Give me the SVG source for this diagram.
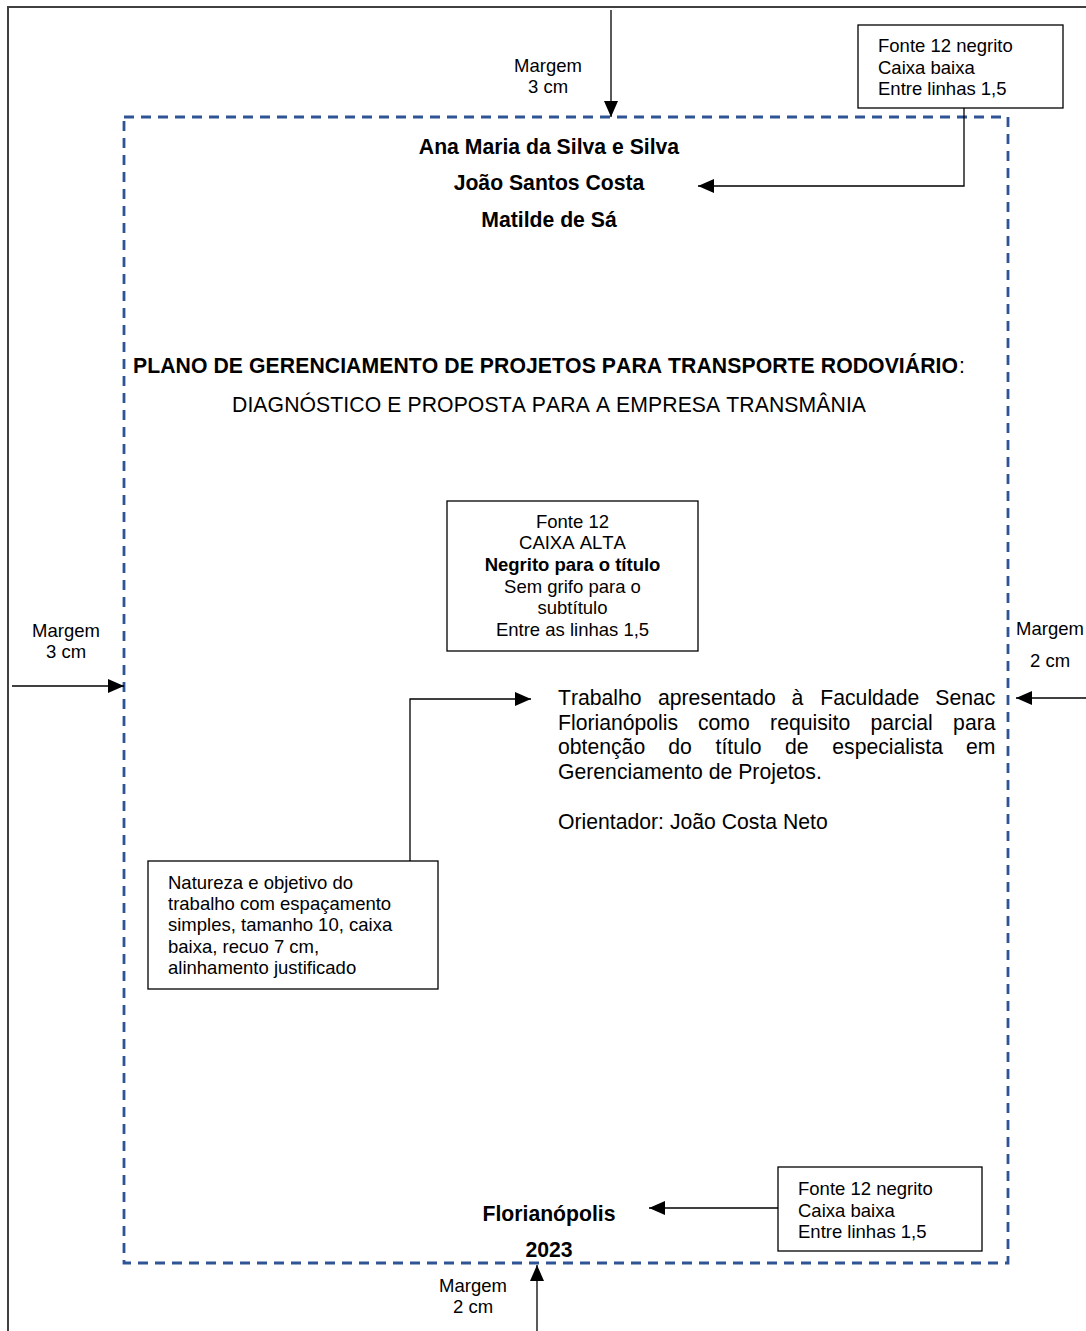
<svg xmlns="http://www.w3.org/2000/svg" width="1086" height="1331" viewBox="0 0 1086 1331">
  <style>
    text { font-family: "Liberation Sans", Arial, sans-serif; fill: #000; font-kerning: none; }
    .body { font-size: 21.2px; }
    .bold { font-weight: bold; }
    .note { font-size: 18.5px; }
    .mid { text-anchor: middle; }
    .box { fill: #fff; stroke: #000; stroke-width: 1.3; }
    .conn { fill: none; stroke: #000; stroke-width: 1.3; }
  </style>
  <defs>
    <marker id="arrow" viewBox="0 0 16 14" refX="16" refY="7" markerWidth="16" markerHeight="14" markerUnits="userSpaceOnUse" orient="auto">
      <path d="M0,0 L16,7 L0,14 z" fill="#000"/>
    </marker>
  </defs>
  <rect width="1086" height="1331" fill="#fff"/>

  <!-- sheet edge -->
  <path id="sheet" d="M8,1331 V7 H1086" fill="none" stroke="#404040" stroke-width="2"/>

  <!-- printable area (margins) -->
  <rect id="margins" x="124" y="117" width="884" height="1146" fill="none" stroke="#2f5496" stroke-width="2.8" stroke-dasharray="10 7"/>

  <!-- page content -->
  <g id="authors" class="body bold mid">
    <text x="549" y="154">Ana Maria da Silva e Silva</text>
    <text x="549" y="190">João Santos Costa</text>
    <text x="549" y="227">Matilde de Sá</text>
  </g>

  <g id="title" class="body">
    <text x="133" y="373" class="bold" textLength="825" lengthAdjust="spacing">PLANO DE GERENCIAMENTO DE PROJETOS PARA TRANSPORTE RODOVIÁRIO</text>
    <text x="959" y="373">:</text>
    <text x="549" y="412" class="mid" textLength="634" lengthAdjust="spacing">DIAGNÓSTICO E PROPOSTA PARA A EMPRESA TRANSMÂNIA</text>
  </g>

  <g id="nature" class="body">
    <text y="705"><tspan x="558">Trabalho</tspan><tspan x="657.9">apresentado</tspan><tspan x="791.6">à</tspan><tspan x="820.3">Faculdade</tspan><tspan x="935.3">Senac</tspan></text>
    <text y="730"><tspan x="558">Florianópolis</tspan><tspan x="697.9">como</tspan><tspan x="770.1">requisito</tspan><tspan x="870.4">parcial</tspan><tspan x="953.1">para</tspan></text>
    <text y="754"><tspan x="558">obtenção</tspan><tspan x="668.3">do</tspan><tspan x="715.6">título</tspan><tspan x="785">de</tspan><tspan x="832.3">especialista</tspan><tspan x="965.9">em</tspan></text>
    <text x="558" y="779">Gerenciamento de Projetos.</text>
    <text x="558" y="829">Orientador: João Costa Neto</text>
  </g>

  <g id="city-year" class="body bold mid">
    <text x="549" y="1221">Florianópolis</text>
    <text x="549" y="1257">2023</text>
  </g>

  <!-- margin labels -->
  <g id="margin-top" class="note mid">
    <text x="548" y="72">Margem</text>
    <text x="548" y="93">3 cm</text>
  </g>
  <g id="margin-left" class="note mid">
    <text x="66" y="637">Margem</text>
    <text x="66" y="658">3 cm</text>
  </g>
  <g id="margin-right" class="note mid">
    <text x="1050" y="635">Margem</text>
    <text x="1050" y="667">2 cm</text>
  </g>
  <g id="margin-bottom" class="note mid">
    <text x="473" y="1292">Margem</text>
    <text x="473" y="1313">2 cm</text>
  </g>

  <!-- annotation boxes -->
  <g id="note-authors" class="note">
    <rect class="box" x="858" y="25" width="205" height="83"/>
    <text x="878" y="52">Fonte 12 negrito</text>
    <text x="878" y="74">Caixa baixa</text>
    <text x="878" y="95">Entre linhas 1,5</text>
  </g>

  <g id="note-title" class="note mid">
    <rect class="box" x="447" y="501" width="251" height="150"/>
    <text x="572.5" y="528">Fonte 12</text>
    <text x="572.5" y="549">CAIXA ALTA</text>
    <text x="572.5" y="571" class="bold">Negrito para o título</text>
    <text x="572.5" y="593">Sem grifo para o</text>
    <text x="572.5" y="614">subtítulo</text>
    <text x="572.5" y="636">Entre as linhas 1,5</text>
  </g>

  <g id="note-nature" class="note">
    <rect class="box" x="148" y="861" width="290" height="128"/>
    <text x="168" y="889">Natureza e objetivo do</text>
    <text x="168" y="910">trabalho com espaçamento</text>
    <text x="168" y="931">simples, tamanho 10, caixa</text>
    <text x="168" y="953">baixa, recuo 7 cm,</text>
    <text x="168" y="974">alinhamento justificado</text>
  </g>

  <g id="note-city" class="note">
    <rect class="box" x="778" y="1167" width="204" height="84"/>
    <text x="798" y="1195">Fonte 12 negrito</text>
    <text x="798" y="1217">Caixa baixa</text>
    <text x="798" y="1238">Entre linhas 1,5</text>
  </g>

  <!-- connectors -->
  <g id="connectors" class="conn" marker-end="url(#arrow)">
    <path d="M611,10 V117"/>
    <path d="M964,108 V186 H698"/>
    <path d="M12,686 H124"/>
    <path d="M1086,698 H1016"/>
    <path d="M410,861 V699 H531"/>
    <path d="M778,1208 H649"/>
    <path d="M537,1331 V1265"/>
  </g>
</svg>
